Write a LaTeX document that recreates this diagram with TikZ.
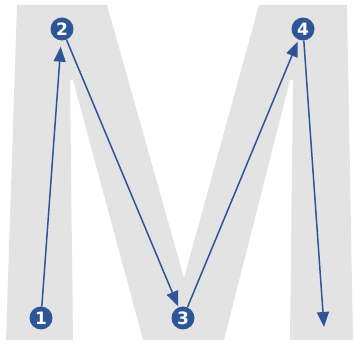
\documentclass[tikz,border=0pt]{standalone}
\usepackage{fontspec}
\newfontfamily\numfont{DejaVu Sans}
\usetikzlibrary{arrows.meta,positioning}

\begin{document}
\begin{tikzpicture}[x=1pt,y=-1pt]

  \definecolor{stepblue}{HTML}{2E5597}
  \definecolor{letgrey}{HTML}{E3E3E3}
  \tikzset{StepDot/.style =
	{circle, fill=stepblue, minimum size=23pt, inner sep=0pt,
	text=white, font=\numfont\bfseries\fontsize{17}{17}\selectfont},
	StepArrow/.style =
	{stepblue, line width=1.5pt,
	-{Triangle[length=15pt,width=12pt]}}}
  \useasboundingbox (0,0) rectangle (354,344);
  \fill[letgrey] (17,5) -- (107,5) -- (184,278) -- (259,5) -- (347,5)
    -- (353,340) -- (290,340) -- (293,80) -- (290,80) -- (224,340)
    -- (143,340) -- (73,80) -- (70,80) -- (73,340) -- (6,340) -- cycle;
  \node[StepDot] (s1) at (41,318) {1};
  \node[StepDot] (s2) at (62,29) {2};
  \node[StepDot] (s3) at (183,318) {3};
  \node[StepDot] (s4) at (303,29) {4};
  \coordinate (tail) at (324,327);
  \draw[StepArrow, shorten >=6pt] (s1) -- (s2);
  \draw[StepArrow, shorten >=1pt] (s2) -- (s3);
  \draw[StepArrow, shorten >=2pt] (s3) -- (s4);
  \draw[StepArrow] (s4) -- (tail);

\end{tikzpicture}
\end{document}
